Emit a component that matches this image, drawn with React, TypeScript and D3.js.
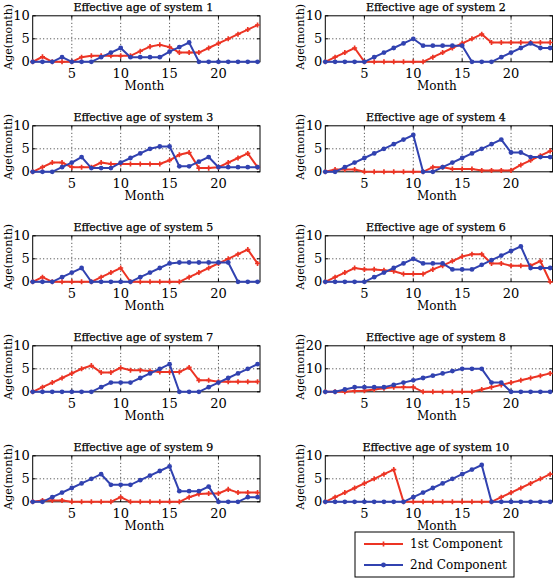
import React, { useEffect, useRef } from "react";
import * as d3 from "d3";

const months = d3.range(1, 25);
const systems = [1, 2, 3, 4, 5, 6, 7, 8, 9, 10];
const yMaxes = [10, 10, 10, 10, 10, 10, 10, 20, 10, 10];
const yTicksList = [[0, 5, 10], [0, 5, 10], [0, 5, 10], [0, 5, 10], [0, 5, 10], [0, 5, 10], [0, 5, 10], [0, 10, 20], [0, 5, 10], [0, 5, 10]];
const xTicks = [5, 10, 15, 20];
const seriesNames = ["1st Component", "2nd Component"];

const first1 = [0, 1.1, 0, 0, 0, 1, 1.3, 1.3, 1.3, 1.3, 1.3, 2.3, 3.3, 3.7, 3.2, 2, 2, 2, 3, 4, 5, 6, 7, 8];
const second1 = [0, 0, 0, 1, 0, 0, 0, 1, 2, 3, 1, 1, 1, 1, 2.2, 3.2, 4.2, 0, 0, 0, 0, 0, 0, 0];
const first2 = [0, 1, 2, 3, 0, 0, 0, 0, 0, 0, 0, 1, 2, 3, 4, 5, 6, 4.2, 4.2, 4.2, 4.2, 4.2, 4.2, 4.2];
const second2 = [0, 0, 0, 0, 0, 1, 2, 3, 4, 5, 3.5, 3.5, 3.5, 3.5, 3.5, 0, 0, 0, 1, 2, 3, 4, 3, 3];
const first3 = [0, 1, 2, 2, 1, 1, 1, 2, 1.7, 1.7, 1.7, 1.7, 1.7, 1.7, 2.5, 3.7, 4.2, 0.8, 0.8, 1, 2, 3, 4, 1];
const second3 = [0, 0, 0, 1, 2, 3.2, 0.8, 0.8, 0.8, 2, 3, 4, 5, 5.5, 5.5, 1.2, 1.2, 2.2, 3.2, 1, 1, 1, 1, 1];
const first4 = [0, 0.5, 0.5, 0.5, 0, 0, 0, 0, 0, 0, 0, 1, 1, 0.6, 0.6, 0.6, 0.3, 0.3, 0.3, 0.3, 1.5, 2.5, 3.5, 4.5];
const second4 = [0, 0, 1, 2, 3, 4, 5, 6, 7, 8, 0, 0, 1, 2, 3, 4, 5, 6, 7, 4.2, 4.2, 3.2, 3.2, 3.2];
const first5 = [0, 1, 0, 0, 0, 0, 0, 1, 2, 3, 0, 0, 0, 0, 0, 0, 1, 2, 3, 4, 5, 6, 7, 4];
const second5 = [0, 0, 0, 1, 2, 3, 0, 0, 0, 0, 0, 1, 2, 3, 4, 4.2, 4.2, 4.2, 4.2, 4.2, 4.2, 0, 0, 0];
const first6 = [0, 1, 2, 3, 2.7, 2.7, 2.5, 2.3, 1.7, 1.7, 1.7, 2.7, 3.5, 4.5, 5.5, 6, 6, 4, 4, 3.5, 3.5, 3.5, 4.5, 0];
const second6 = [0, 0, 0, 0, 0, 1, 2, 3, 4, 5, 4, 4, 4, 2.7, 2.7, 2.7, 3.7, 4.7, 5.7, 6.7, 7.7, 3, 3, 3];
const first7 = [0, 1, 2, 3, 4, 5, 5.7, 4.2, 4.2, 5.2, 4.7, 4.7, 4.5, 4.3, 4.3, 4.3, 5.3, 2.5, 2.5, 2.2, 2.2, 2.2, 2.2, 2.2];
const second7 = [0, 0, 0, 0, 0, 0, 0, 1, 2, 2, 2, 3, 4, 5, 6, 0, 0, 0, 1, 2, 3, 4, 5, 6];
const first8 = [0, 0, 0, 0.3, 0.5, 1, 1.5, 2, 2, 2, 0, 0, 0, 0, 0, 0, 1, 2, 3, 4, 5, 6, 7, 8];
const second8 = [0, 0, 1, 2, 2, 2, 2, 3, 4, 5, 6, 7, 8, 9, 10, 10, 10, 4, 4, 0, 0, 0, 0, 0];
const first9 = [0, 0.3, 0.3, 0.3, 0, 0, 0, 0, 0, 1, 0, 0, 0, 0, 0, 0, 1, 1.7, 1.8, 1.8, 2.7, 2, 2, 2];
const second9 = [0, 0, 1, 2, 3, 4, 5, 6, 3.7, 3.7, 3.7, 4.7, 5.7, 6.7, 7.7, 2.3, 2.3, 2.3, 3.3, 0, 0, 0, 1, 1];
const first10 = [0, 1, 2, 3, 4, 5, 6, 7, 0, 0, 0, 0, 0, 0, 0, 0, 0, 0, 1, 2, 3, 4, 5, 6];
const second10 = [0, 0, 0, 0, 0, 0, 0, 0, 0, 1, 2, 3, 4, 5, 6, 7, 8, 0, 0, 0, 0, 0, 0, 0];

const firstSeries = [first1, first2, first3, first4, first5, first6, first7, first8, first9, first10];
const secondSeries = [second1, second2, second3, second4, second5, second6, second7, second8, second9, second10];

const RED = "#ec3424";
const BLUE = "#3142b0";
const FONT = "DejaVu Serif";

export default function App() {
  const ref = useRef<SVGSVGElement>(null);
  useEffect(() => {
    const svg = d3.select(ref.current);
    svg.selectAll("*").remove();
    const colLeft = [32.7, 325.3];
    const boxW = 227.3;
    const boxH = 46;
    systems.forEach((s, i) => {
      const col = i % 2;
      const row = Math.floor(i / 2);
      const left = colLeft[col];
      const top = 15.8 + row * 110;
      const x = d3.scaleLinear().domain([1, 24.25]).range([left, left + boxW]);
      const y = d3.scaleLinear().domain([0, yMaxes[i]]).range([top + boxH, top]);
      const g = svg.append("g");
      xTicks.forEach((t) => {
        g.append("line").attr("x1", x(t)).attr("x2", x(t)).attr("y1", top).attr("y2", top + boxH)
          .attr("stroke", "#000").attr("stroke-width", 0.8).attr("stroke-dasharray", "1,2.5");
      });
      yTicksList[i].forEach((t) => {
        if (t === 0 || t === yMaxes[i]) return;
        g.append("line").attr("x1", left).attr("x2", left + boxW).attr("y1", y(t)).attr("y2", y(t))
          .attr("stroke", "#000").attr("stroke-width", 0.8).attr("stroke-dasharray", "1,2.5");
      });
      g.append("rect").attr("x", left).attr("y", top).attr("width", boxW).attr("height", boxH)
        .attr("fill", "none").attr("stroke", "#000").attr("stroke-width", 1);
      xTicks.forEach((t) => {
        g.append("line").attr("x1", x(t)).attr("x2", x(t)).attr("y1", top + boxH).attr("y2", top + boxH - 3).attr("stroke", "#000");
        g.append("line").attr("x1", x(t)).attr("x2", x(t)).attr("y1", top).attr("y2", top + 3).attr("stroke", "#000");
        g.append("text").attr("x", x(t)).attr("y", top + boxH + 16).attr("text-anchor", "middle")
          .attr("font-family", FONT).attr("font-size", 13).text(String(t));
      });
      yTicksList[i].forEach((t) => {
        g.append("line").attr("x1", left).attr("x2", left + 3).attr("y1", y(t)).attr("y2", y(t)).attr("stroke", "#000");
        g.append("line").attr("x1", left + boxW).attr("x2", left + boxW - 3).attr("y1", y(t)).attr("y2", y(t)).attr("stroke", "#000");
        g.append("text").attr("x", left - 3).attr("y", y(t) + 4.5).attr("text-anchor", "end")
          .attr("font-family", FONT).attr("font-size", 13).text(String(t));
      });
      g.append("text").attr("x", left + boxW / 2 - 3).attr("y", top - 5).attr("text-anchor", "middle")
        .attr("font-family", FONT).attr("font-size", 11).attr("stroke", "#000").attr("stroke-width", 0.25)
        .text(`Effective age of system ${s}`);
      g.append("text").attr("x", left + boxW / 2 - 2).attr("y", top + boxH + 28).attr("text-anchor", "middle")
        .attr("font-family", FONT).attr("font-size", 12).text("Month");
      g.append("text").attr("transform", `translate(${left - 21},${top + boxH / 2 - 2}) rotate(-90)`)
        .attr("text-anchor", "middle").attr("font-family", FONT).attr("font-size", 11).text("Age(month)");
      const line = d3.line<number>().x((_, k) => x(months[k])).y((v) => y(v));
      const clipId = `clip${i}`;
      svg.append("clipPath").attr("id", clipId).append("rect")
        .attr("x", left - 4).attr("y", top - 4).attr("width", boxW + 8).attr("height", boxH + 8);
      const data = [firstSeries[i], secondSeries[i]];
      const colors = [RED, BLUE];
      [0, 1].forEach((k) => {
        const lg = g.append("g").attr("clip-path", `url(#${clipId})`);
        lg.append("path").attr("d", line(data[k]) as string).attr("fill", "none")
          .attr("stroke", colors[k]).attr("stroke-width", 2);
        data[k].forEach((v, j) => {
          if (k === 1) {
            lg.append("circle").attr("cx", x(months[j])).attr("cy", y(v)).attr("r", 2.4).attr("fill", colors[k]);
          } else {
            lg.append("path").attr("d", d3.symbol(d3.symbolCross, 14)() as string)
              .attr("transform", `translate(${x(months[j])},${y(v)})`).attr("fill", colors[k]);
          }
        });
      });
    });
    const lg = svg.append("g");
    lg.append("rect").attr("x", 355).attr("y", 532).attr("width", 159).attr("height", 45)
      .attr("fill", "#fff").attr("stroke", "#000").attr("stroke-width", 1);
    [0, 1].forEach((k) => {
      const yy = 544 + k * 21;
      const color = k === 0 ? RED : BLUE;
      lg.append("line").attr("x1", 364).attr("x2", 403).attr("y1", yy).attr("y2", yy).attr("stroke", color).attr("stroke-width", 2);
      if (k === 0) {
        lg.append("path").attr("d", d3.symbol(d3.symbolCross, 14)() as string).attr("transform", `translate(383.5,${yy})`).attr("fill", color);
      } else {
        lg.append("circle").attr("cx", 383.5).attr("cy", yy).attr("r", 2.4).attr("fill", color);
      }
      lg.append("text").attr("x", 410).attr("y", yy + 4).attr("font-family", FONT).attr("font-size", 12).text(seriesNames[k]);
    });
  }, []);
  return (
    <svg ref={ref} width={553} height={579} style={{ position: "absolute", left: 0, top: 0, background: "#fff" }} />
  );
}
